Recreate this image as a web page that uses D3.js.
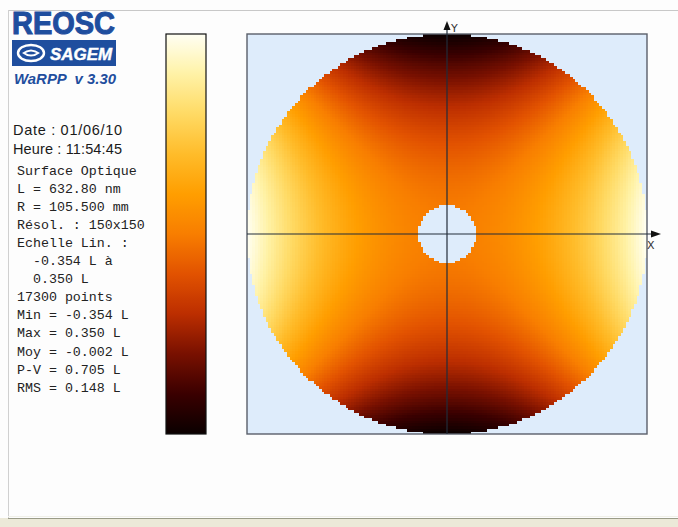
<!DOCTYPE html>
<html>
<head>
<meta charset="utf-8">
<script src="https://cdn.jsdelivr.net/npm/d3@7/dist/d3.min.js"></script>
<style>
  html, body { margin: 0; padding: 0; background: #fdfdfd; }
  svg { display: block; }
</style>
</head>
<body>
<svg id="chart" width="678" height="527"></svg>
<script>
// Measurement header
const headerLines = ["Date : 01/06/10", "Heure : 11:54:45"];
const infoLines = [
  "Surface Optique",
  "L = 632.80 nm",
  "R = 105.500 mm",
  "Résol. : 150x150",
  "Echelle Lin. :",
  "  -0.354 L à",
  "  0.350 L",
  "17300 points",
  "Min = -0.354 L",
  "Max = 0.350 L",
  "Moy = -0.002 L",
  "P-V = 0.705 L",
  "RMS = 0.148 L"
];

// Linear colour scale limits (waves)
const scaleLimits = [-0.354, 0.350];

// Fitted surface terms (waves): piston and 0° astigmatism
const termNames = ["piston", "astig0"];
const termValues = [-0.002, 0.352];

// Pupil sampling and central obscuration (fraction of radius)
const gridSize = [150];
const obscuration = [0.145];

// Palette from low (bottom of bar) to high (top of bar)
const paletteStops = ["#0a0000", "#3a0000", "#781000", "#bc2e00", "#e25200",
                      "#f87e00", "#ff9e00", "#ffbc2a", "#ffda64", "#fff2a6", "#fffff4"];

const svg = d3.select("#chart");

// window frame
svg.append("rect").attr("x", 0).attr("y", 0).attr("width", 678).attr("height", 527).attr("fill", "#fdfdfd");
svg.append("line").attr("x1", 8).attr("x2", 678).attr("y1", 10.5).attr("y2", 10.5).attr("stroke", "#c8c8c8");
svg.append("line").attr("x1", 8.5).attr("x2", 8.5).attr("y1", 10).attr("y2", 518).attr("stroke", "#d0d0d0");
svg.append("rect").attr("x", 0).attr("y", 518).attr("width", 678).attr("height", 9).attr("fill", "#ece9d8");
svg.append("line").attr("x1", 8).attr("x2", 678).attr("y1", 518.5).attr("y2", 518.5).attr("stroke", "#9a9c88").attr("stroke-width", 1.2);
svg.append("line").attr("x1", 8).attr("x2", 678).attr("y1", 516.5).attr("y2", 516.5).attr("stroke", "#f0f0e8");

// logo
const blue = "#1f4e9e";
svg.append("text").attr("x", 12).attr("y", 34)
  .attr("font-family", "Liberation Sans, Arial, sans-serif").attr("font-weight", "bold")
  .attr("font-size", 31).attr("textLength", 103).attr("lengthAdjust", "spacingAndGlyphs")
  .attr("fill", blue).attr("stroke", blue).attr("stroke-width", 1.1).text("REOSC");
svg.append("rect").attr("x", 12).attr("y", 40).attr("width", 104).attr("height", 26).attr("fill", blue);
const eye = svg.append("g").attr("transform", "translate(31,53)");
eye.append("ellipse").attr("rx", 13).attr("ry", 8).attr("fill", "none").attr("stroke", "#fff").attr("stroke-width", 2.4);
eye.append("path").attr("d", "M-9,0 Q0,-7 9,0 Q0,7 -9,0 Z").attr("fill", "#fff");
eye.append("path").attr("d", "M-5.5,0 Q0,-3.2 5.5,0 Q0,3.2 -5.5,0 Z").attr("fill", blue);
svg.append("text").attr("x", 50).attr("y", 60)
  .attr("font-family", "Liberation Sans, Arial, sans-serif").attr("font-weight", "bold").attr("font-style", "italic")
  .attr("font-size", 16).attr("textLength", 62).attr("lengthAdjust", "spacingAndGlyphs")
  .attr("fill", "#fff").attr("stroke", "#fff").attr("stroke-width", 0.4).text("SAGEM");
svg.append("text").attr("x", 14).attr("y", 84)
  .attr("font-family", "Liberation Sans, Arial, sans-serif").attr("font-style", "italic").attr("font-weight", "bold")
  .attr("font-size", 15).attr("textLength", 102).attr("lengthAdjust", "spacingAndGlyphs")
  .attr("fill", blue).style("white-space", "pre").text("WaRPP  v 3.30");

// header text
svg.append("g").selectAll("text").data(headerLines).join("text")
  .attr("x", 13).attr("y", (d, i) => 135 + i * 19)
  .attr("font-family", "Liberation Sans, Arial, sans-serif").attr("font-size", 14.5)
  .attr("textLength", 109).attr("lengthAdjust", "spacing")
  .attr("fill", "#1a1a1a").text(d => d);

svg.append("g").selectAll("text").data(infoLines).join("text")
  .attr("x", 17).attr("y", (d, i) => 174.5 + i * 18.1)
  .attr("font-family", "Liberation Mono, Courier New, monospace").attr("font-size", 13.3)
  .attr("fill", "#222").style("white-space", "pre").text(d => d);

// colour scale
const lo = scaleLimits[0], hi = scaleLimits[1];
const stopDomain = paletteStops.map((c, i) => lo + (hi - lo) * i / (paletteStops.length - 1));
const color = d3.scaleLinear().domain(stopDomain).range(paletteStops).interpolate(d3.interpolateRgb).clamp(true);

// colour bar
const bar = { x: 166, y: 34, w: 40, h: 400 };
const barY = d3.scaleLinear().domain([hi, lo]).range([bar.y, bar.y + bar.h]);
const defs = svg.append("defs");
const grad = defs.append("linearGradient").attr("id", "barGrad").attr("x1", 0).attr("x2", 0).attr("y1", 0).attr("y2", 1);
grad.selectAll("stop").data(d3.range(0, 1.0001, 0.02)).join("stop")
  .attr("offset", d => d)
  .attr("stop-color", d => color(barY.invert(bar.y + d * bar.h)));
svg.append("rect").attr("x", bar.x).attr("y", bar.y).attr("width", bar.w).attr("height", bar.h)
  .attr("fill", "url(#barGrad)").attr("stroke", "#111").attr("stroke-width", 1.2);

// map panel
const box = { x: 247, y: 34, w: 400, h: 400 };
svg.append("rect").attr("x", box.x).attr("y", box.y).attr("width", box.w).attr("height", box.h)
  .attr("fill", "#deecfb");

const n = gridSize[0];
const gx = d3.scaleLinear().domain([0, n]).range([box.x, box.x + box.w]);
const gy = d3.scaleLinear().domain([0, n]).range([box.y, box.y + box.h]);

// sampled pupil cells
const cells = [];
for (let j = 0; j < n; j++) {
  for (let i = 0; i < n; i++) {
    const u = (i + 0.5 - n / 2) / (n / 2);
    const v = -(j + 0.5 - n / 2) / (n / 2);
    const r2 = u * u + v * v;
    if (r2 > 1 || r2 < obscuration[0] * obscuration[0]) continue;
    // rho^2 cos(2 theta) = u^2 - v^2
    const value = termValues[0] + termValues[1] * (u * u - v * v);
    cells.push({ i, j, value });
  }
}
const cw = gx(1) - gx(0);
svg.append("g").attr("shape-rendering", "crispEdges").selectAll("rect").data(cells).join("rect")
  .attr("x", d => gx(d.i)).attr("y", d => gy(d.j))
  .attr("width", cw + 0.4).attr("height", cw + 0.4)
  .attr("fill", d => color(d.value));

svg.append("rect").attr("x", box.x).attr("y", box.y).attr("width", box.w).attr("height", box.h)
  .attr("fill", "none").attr("stroke", "#5a5f6a").attr("stroke-width", 1.4);

// axes through pupil centre
const cx = box.x + box.w / 2, cy = box.y + box.h / 2;
svg.append("line").attr("x1", cx).attr("x2", cx).attr("y1", 26).attr("y2", box.y + box.h)
  .attr("stroke", "#222c3a").attr("stroke-width", 1.2);
svg.append("line").attr("x1", box.x).attr("x2", 657).attr("y1", cy).attr("y2", cy)
  .attr("stroke", "#222c3a").attr("stroke-width", 1.2);
svg.append("path").attr("d", `M${cx},21 L${cx - 3.5},30 L${cx + 3.5},30 Z`).attr("fill", "#111");
svg.append("path").attr("d", `M661,${cy} L651,${cy - 3.5} L651,${cy + 3.5} Z`).attr("fill", "#111");
svg.append("text").attr("x", cx + 4).attr("y", 32)
  .attr("font-family", "DejaVu Sans, sans-serif").attr("font-size", 11).attr("fill", "#333").text("Y");
svg.append("text").attr("x", 647).attr("y", 249)
  .attr("font-family", "DejaVu Sans, sans-serif").attr("font-size", 11).attr("fill", "#333").text("X");
</script>
</body>
</html>
